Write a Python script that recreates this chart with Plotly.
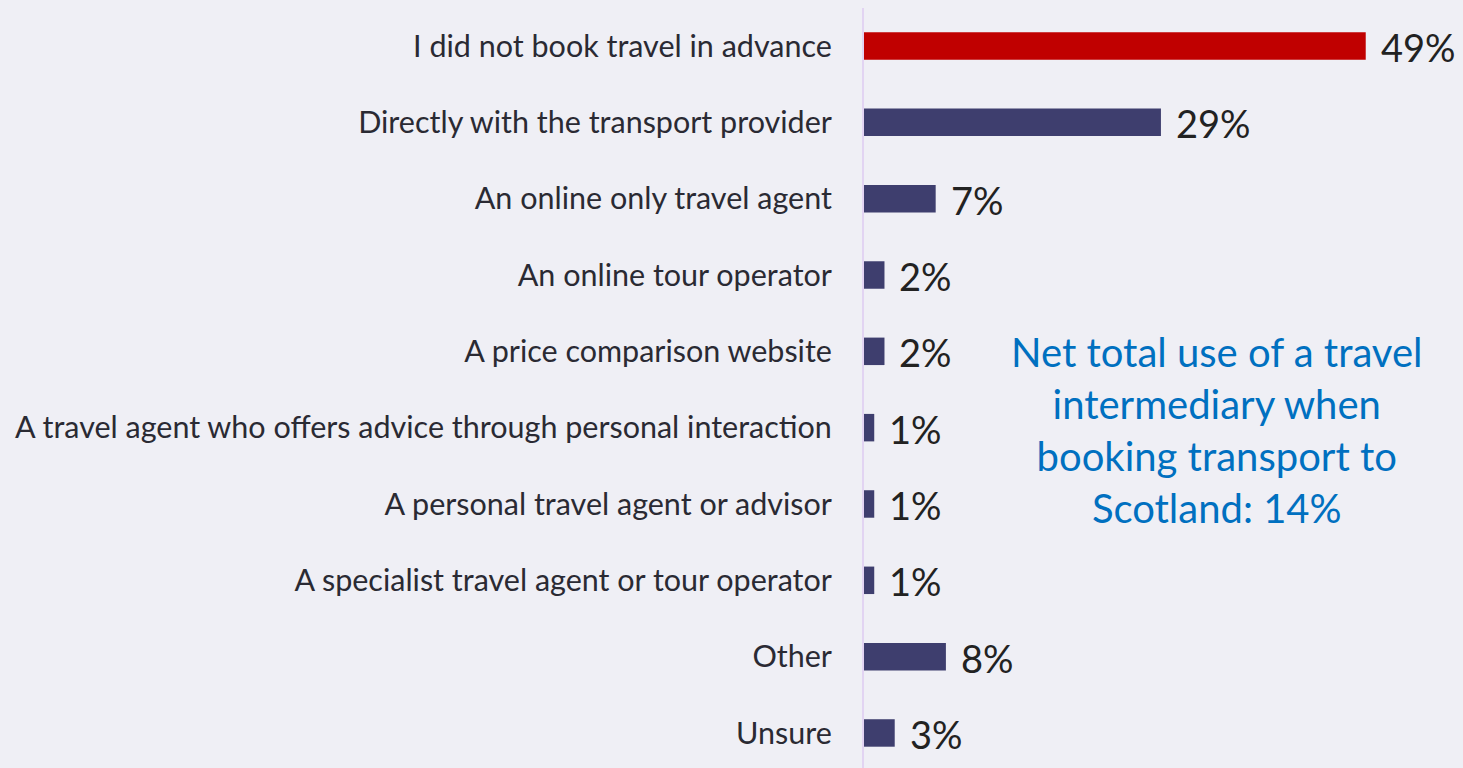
import plotly.graph_objects as go

categories = [
    "I did not book travel in advance",
    "Directly with the transport provider",
    "An online only travel agent",
    "An online tour operator",
    "A price comparison website",
    "A travel agent who offers advice through personal interaction",
    "A personal travel agent or advisor",
    "A specialist travel agent or tour operator",
    "Other",
    "Unsure",
]
values = [49, 29, 7, 2, 2, 1, 1, 1, 8, 3]
value_labels = ["49%", "29%", "7%", "2%", "2%", "1%", "1%", "1%", "8%", "3%"]
note_text = "Net total use of a travel<br>intermediary when<br>booking transport to<br>Scotland: 14%"

FONT = "Lato, 'Source Sans Pro', 'Noto Sans', sans-serif"
BG = "#efeff5"
colors = ["#c00000"] + ["#3e3e6e"] * (len(categories) - 1)

fig = go.Figure(go.Bar(
    x=values, y=categories, orientation="h",
    marker=dict(color=colors, line=dict(width=0)),
    width=0.36, hoverinfo="skip",
))

for c, v, t in zip(categories, values, value_labels):
    fig.add_annotation(x=v, y=c, text=t, showarrow=False, xanchor="left",
                       xshift=13, yshift=-1, font=dict(family=FONT, size=38, color="#222222"))

fig.add_annotation(x=0.589, y=0.445, xref="paper", yref="paper", text=note_text,
                   showarrow=False, xanchor="center", yanchor="middle",
                   font=dict(family=FONT, size=40, color="#0070c0"))

fig.update_layout(
    width=1463, height=768,
    margin=dict(l=864, r=0, t=8, b=0),
    paper_bgcolor=BG, plot_bgcolor=BG,
    showlegend=False,
    xaxis=dict(range=[0, 58.5], visible=False, fixedrange=True),
    yaxis=dict(range=[9.459, -0.498], showgrid=False, zeroline=False,
               showline=True, linecolor="#e2d4f2", linewidth=2,
               ticks="", ticklabelstandoff=24, fixedrange=True,
               tickfont=dict(family=FONT, size=30.5, color="#2a2a33")),
)

fig.write_html(
    "out.html",
    config={"displayModeBar": False},
    post_script="document.body.style.margin='0';document.body.style.background='" + BG + "';document.body.style.overflow='hidden';",
)
